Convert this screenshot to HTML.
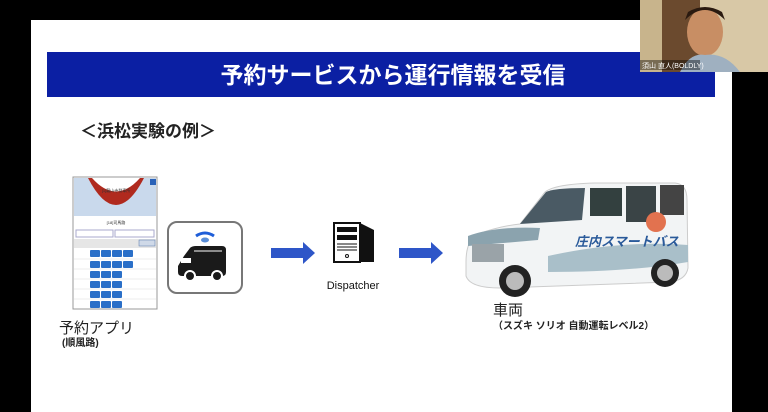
<!DOCTYPE html>
<html><head><meta charset="utf-8">
<style>
html,body{margin:0;padding:0;background:#000;width:768px;height:412px;overflow:hidden}
svg{display:block}
text{font-family:"Liberation Sans","Noto Sans CJK JP",sans-serif}
</style></head><body>
<svg width="768" height="412" viewBox="0 0 768 412" xmlns="http://www.w3.org/2000/svg">
<rect x="0" y="0" width="768" height="412" fill="#000"/>
<rect x="31" y="20" width="701" height="392" fill="#fff"/>
<!-- title bar -->
<rect x="47" y="52" width="668" height="45" fill="#0b1fa3"/>
<text x="393" y="83" fill="#fff" font-size="23" font-weight="bold" text-anchor="middle">予約サービスから運行情報を受信</text>
<text x="80" y="137" fill="#222" font-size="17" font-weight="bold">＜浜松実験の例＞</text>

<!-- phone screenshot -->
<rect x="73" y="177" width="84" height="132" fill="#fff" stroke="#999" stroke-width="1"/>
<rect x="74" y="178" width="82" height="38" fill="#c9d9ec"/>
<path d="M88 178 Q116 232 144 178 Z" fill="#b02a1e"/>
<path d="M92 178 Q116 205 140 178 Z" fill="#fff"/>
<text x="116" y="192" font-size="4" text-anchor="middle" fill="#333">[1]龍山寺發車所</text>
<rect x="150" y="179" width="6" height="6" fill="#2a62b8"/>
<text x="116" y="224" font-size="4" text-anchor="middle" fill="#333">[18]司馬路</text>
<rect x="76" y="230" width="37" height="7" fill="#fff" stroke="#aac"/>
<rect x="115" y="230" width="39" height="7" fill="#fff" stroke="#aac"/>
<rect x="74" y="239" width="82" height="9" fill="#e6e6e6"/>
<rect x="139" y="240" width="16" height="6" fill="#cfd9e8" stroke="#5577aa" stroke-width="0.5"/>
<g fill="#2a6fc8">
<rect x="90" y="250" width="10" height="7" rx="1"/><rect x="101" y="250" width="10" height="7" rx="1"/><rect x="112" y="250" width="10" height="7" rx="1"/><rect x="123" y="250" width="10" height="7" rx="1"/>
<rect x="90" y="261" width="10" height="7" rx="1"/><rect x="101" y="261" width="10" height="7" rx="1"/><rect x="112" y="261" width="10" height="7" rx="1"/><rect x="123" y="261" width="10" height="7" rx="1"/>
<rect x="90" y="271" width="10" height="7" rx="1"/><rect x="101" y="271" width="10" height="7" rx="1"/><rect x="112" y="271" width="10" height="7" rx="1"/>
<rect x="90" y="281" width="10" height="7" rx="1"/><rect x="101" y="281" width="10" height="7" rx="1"/><rect x="112" y="281" width="10" height="7" rx="1"/>
<rect x="90" y="291" width="10" height="7" rx="1"/><rect x="101" y="291" width="10" height="7" rx="1"/><rect x="112" y="291" width="10" height="7" rx="1"/>
<rect x="90" y="301" width="10" height="7" rx="1"/><rect x="101" y="301" width="10" height="7" rx="1"/><rect x="112" y="301" width="10" height="7" rx="1"/>
</g>
<g stroke="#ddd" stroke-width="0.5"><line x1="74" y1="259" x2="156" y2="259"/><line x1="74" y1="269" x2="156" y2="269"/><line x1="74" y1="279" x2="156" y2="279"/><line x1="74" y1="289" x2="156" y2="289"/><line x1="74" y1="299" x2="156" y2="299"/></g>
<text x="59" y="333" font-size="15" fill="#222">予約アプリ</text>
<text x="62" y="346" font-size="10" fill="#222" font-weight="bold">(順風路)</text>

<!-- icon box -->
<rect x="168" y="222" width="74" height="71" rx="9" fill="#fff" stroke="#777" stroke-width="2"/>
<path d="M196 236 Q205 230 214 236" stroke="#1f5ed8" stroke-width="3" fill="none"/>
<ellipse cx="205" cy="240" rx="4" ry="2.5" fill="#5a8ed8"/>
<path d="M184 256 L190 248 Q192 246 196 246 L222 246 Q226 246 226 250 L226 272 Q226 276 222 276 L182 276 Q178 276 178 272 L178 266 Z" fill="#1a1a1a"/>
<rect x="181" y="258" width="10" height="5" fill="#fff"/>
<line x1="194" y1="251" x2="222" y2="251" stroke="#fff" stroke-width="1"/>
<circle cx="190" cy="276" r="5" fill="#1a1a1a" stroke="#fff" stroke-width="2"/>
<circle cx="217" cy="276" r="5" fill="#1a1a1a" stroke="#fff" stroke-width="2"/>

<!-- arrows -->
<polygon points="271,248 303,248 303,242 315,253 303,264 303,258 271,258" fill="#2e56c8"/>
<polygon points="399,248 431,248 431,242 443,253 431,264 431,258 399,258" fill="#2e56c8"/>

<!-- server -->
<polygon points="360,223 374,230 374,262 360,262" fill="#111"/>
<rect x="334" y="223" width="26" height="39" fill="#fff" stroke="#111" stroke-width="2"/>
<rect x="337" y="227" width="20" height="5" fill="#111"/>
<rect x="337" y="235" width="20" height="5" fill="#111"/>
<line x1="337" y1="244" x2="357" y2="244" stroke="#111"/><line x1="337" y1="247" x2="357" y2="247" stroke="#111"/><line x1="337" y1="250" x2="357" y2="250" stroke="#111"/>
<circle cx="347" cy="256" r="1.5" fill="none" stroke="#111"/>
<text x="353" y="289" font-size="11" text-anchor="middle" fill="#111">Dispatcher</text>

<!-- car -->
<path d="M466 262 Q466 240 478 234 Q500 226 520 224 L545 192 Q555 184 595 183 L675 183 Q687 184 687 200 L688 268 Q686 280 670 282 L500 288 Q470 288 466 276 Z" fill="#f2f4f5" stroke="#ccc" stroke-width="1"/>
<path d="M520 224 L546 192 Q554 188 585 188 L582 220 Z" fill="#4a5a64"/>
<rect x="590" y="188" width="32" height="28" fill="#33403f"/>
<rect x="626" y="186" width="30" height="36" fill="#3a4446"/>
<rect x="660" y="185" width="24" height="30" fill="#444"/>
<path d="M468 236 Q495 226 540 228 L538 240 L468 246 Z" fill="#8ba3ae"/>
<path d="M548 256 Q620 240 688 245 L688 262 Q630 272 548 272 Z" fill="#a9bfc9"/>
<text x="575" y="246" font-size="13" font-weight="bold" fill="#2a5a9a" font-style="italic">庄内スマートバス</text>
<circle cx="656" cy="222" r="10" fill="#e2724f"/>
<rect x="472" y="244" width="32" height="18" fill="#9aa3a8"/>
<circle cx="515" cy="281" r="16" fill="#222"/><circle cx="515" cy="281" r="9" fill="#bbb"/>
<circle cx="665" cy="273" r="14" fill="#222"/><circle cx="665" cy="273" r="8" fill="#bbb"/>
<text x="493" y="315" font-size="15" fill="#222">車両</text>
<text x="493" y="329" font-size="10" fill="#222" font-weight="bold">（スズキ ソリオ 自動運転レベル2）</text>

<!-- webcam -->
<rect x="640" y="0" width="128" height="72" fill="#6b4a2e"/>
<rect x="700" y="0" width="68" height="72" fill="#d8c8a6"/>
<rect x="640" y="0" width="22" height="72" fill="#c8b48c"/>
<ellipse cx="705" cy="32" rx="18" ry="24" fill="#c88e64"/>
<path d="M685 20 Q705 0 725 20 L722 12 Q705 2 688 12 Z" fill="#2a1a10"/>
<path d="M680 72 Q690 52 705 55 Q725 52 740 72 Z" fill="#9fb0c0"/>
<rect x="640" y="60" width="60" height="10" fill="rgba(0,0,0,0.4)"/>
<text x="642" y="68" font-size="7" fill="#fff">須山 直人(BOLDLY)</text>
</svg>
</body></html>
